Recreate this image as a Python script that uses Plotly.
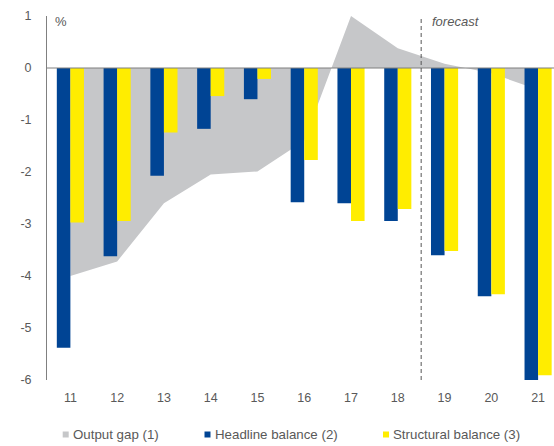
import plotly.graph_objects as go

years = [11, 12, 13, 14, 15, 16, 17, 18, 19, 20, 21]
year_labels = ["11", "12", "13", "14", "15", "16", "17", "18", "19", "20", "21"]
output_gap = [-4.0, -3.72, -2.6, -2.05, -1.99, -1.4, 1.0, 0.38, 0.08, -0.1, -0.42]
headline = [-5.38, -3.62, -2.07, -1.17, -0.6, -2.58, -2.6, -2.94, -3.6, -4.39, -6.0]
structural = [-2.97, -2.94, -1.24, -0.54, -0.21, -1.77, -2.94, -2.71, -3.52, -4.35, -5.91]
y_ticks = [1, 0, -1, -2, -3, -4, -5, -6]
y_tick_labels = ["1", "0", "-1", "-2", "-3", "-4", "-5", "-6"]
forecast_start = 18.5

GRAY = "#C6C7C9"
BLUE = "#004494"
YELLOW = "#FFED00"
TXT = "#595959"
FONT = "Liberation Sans, Arial, sans-serif"

fig = go.Figure()
fig.add_trace(go.Scatter(x=years, y=output_gap, mode="lines", fill="tozeroy",
                         fillcolor=GRAY, line=dict(width=0, color=GRAY),
                         name="Output gap (1)", showlegend=False,
                         xaxis="x", yaxis="y"))
fig.add_trace(go.Bar(x=years, y=headline, marker=dict(color=BLUE, line=dict(width=0)),
                     name="Headline balance (2)", showlegend=False,
                     xaxis="x2", yaxis="y2"))
fig.add_trace(go.Bar(x=years, y=structural, marker=dict(color=YELLOW, line=dict(width=0)),
                     name="Structural balance (3)", showlegend=False,
                     xaxis="x2", yaxis="y2"))

xr = [10.5, 21.34]
yr = [-6, 1]
fig.update_layout(
    width=554, height=446,
    margin=dict(l=47, r=0, t=16, b=66),
    paper_bgcolor="white", plot_bgcolor="white",
    font=dict(family=FONT, size=12, color=TXT),
    barmode="group", bargap=0.42, bargroupgap=0,
    xaxis=dict(range=xr, tickvals=years, ticktext=year_labels, showgrid=False,
               zeroline=False, showline=False, ticks="", ticklabelstandoff=8,
               tickfont=dict(size=12.5, color=TXT, family=FONT)),
    yaxis=dict(range=yr, tickvals=y_ticks, ticktext=y_tick_labels, showgrid=False,
               zeroline=False, showline=True, linecolor="#808080", linewidth=1,
               ticks="", ticklabelstandoff=12,
               tickfont=dict(size=12.5, color=TXT, family=FONT)),
    xaxis2=dict(range=xr, overlaying="x", visible=False),
    yaxis2=dict(range=yr, overlaying="y", visible=False),
    showlegend=False,
)

# zero line
fig.add_shape(type="line", xref="paper", yref="y", x0=0, x1=1, y0=0, y1=0,
              line=dict(color="#7F7F7F", width=1), layer="above")
# forecast divider
fig.add_shape(type="line", xref="x", yref="y", x0=forecast_start, x1=forecast_start,
              y0=yr[0], y1=yr[1], line=dict(color="#555555", width=1, dash="4px,3px"),
              layer="above")

fig.add_annotation(text="%", xref="paper", yref="paper", x=0.012, y=0.985,
                   xanchor="left", yanchor="middle", showarrow=False,
                   font=dict(size=13, color=TXT, family=FONT))
fig.add_annotation(text="<i>forecast</i>", xref="x", yref="paper", x=forecast_start,
                   xshift=9, y=0.985, xanchor="left", yanchor="middle", showarrow=False,
                   font=dict(size=13, color=TXT, family=FONT))

# legend
legend_items = [("Output gap (1)", GRAY, 62.7), ("Headline balance (2)", BLUE, 204.5),
                ("Structural balance (3)", YELLOW, 383)]
plot_h = 446 - 16 - 66
ly = (380 - 434.5) / plot_h
for label, col, px in legend_items:
    xp = (px - 47) / (554 - 47)
    fig.add_shape(type="rect", xref="paper", yref="paper",
                  x0=xp, x1=xp + 6 / 507, y0=ly - 3 / plot_h, y1=ly + 3 / plot_h,
                  fillcolor=col, line=dict(width=0))
    fig.add_annotation(text=label, xref="paper", yref="paper", x=xp + 8 / 507, y=ly,
                       xanchor="left", yanchor="middle", showarrow=False,
                       font=dict(size=13.3, color=TXT, family=FONT))

fig.write_html("out.html", config={"displayModeBar": False},
               post_script="document.body.style.margin='0';document.body.style.padding='0';")
